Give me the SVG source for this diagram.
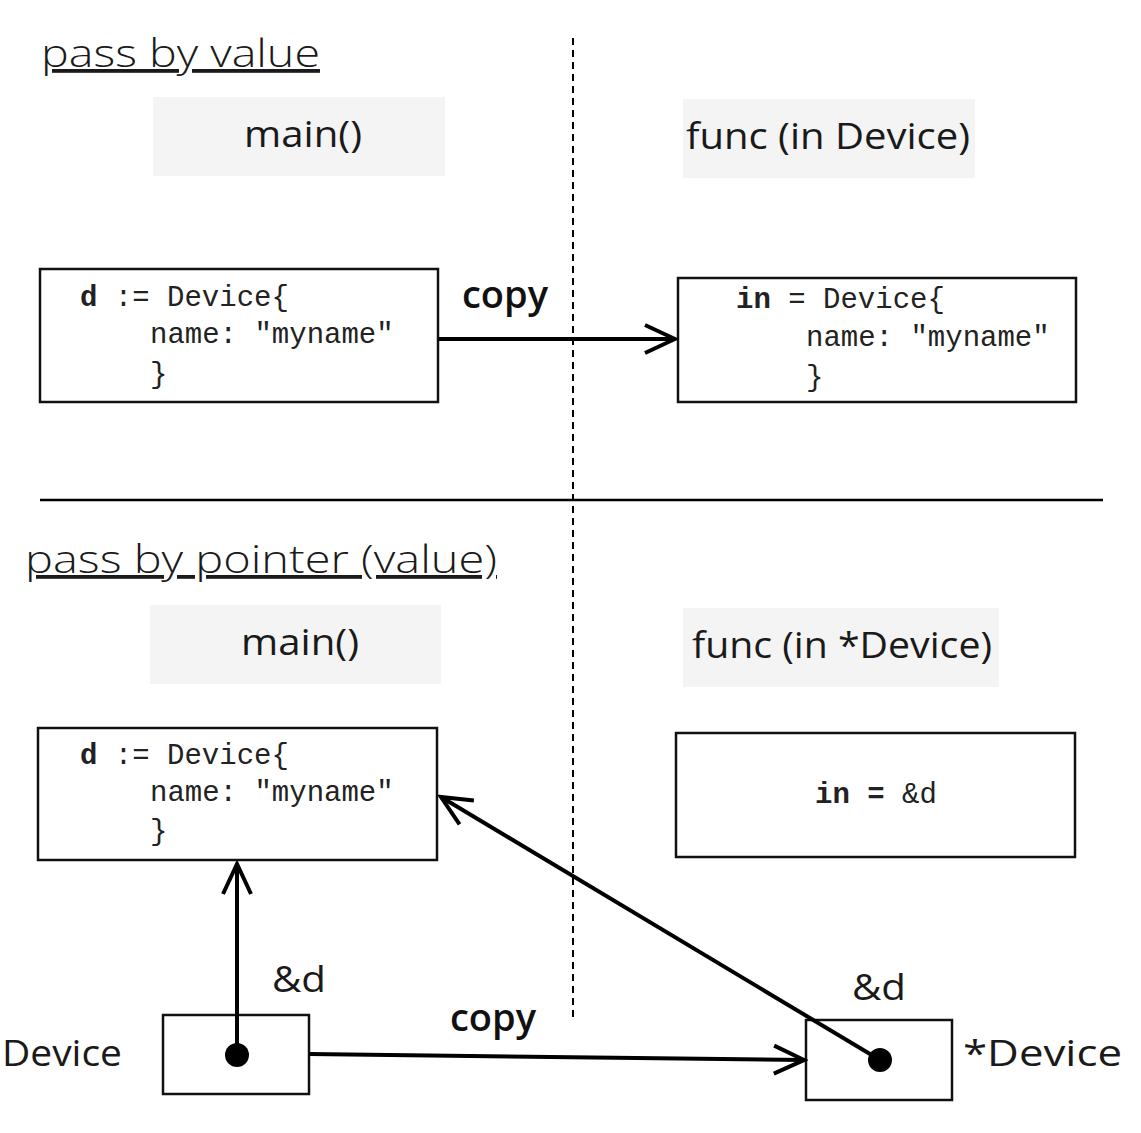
<svg xmlns="http://www.w3.org/2000/svg" width="1141" height="1133" viewBox="0 0 1141 1133">
<style>
.title{font-family:"Open Sans","Liberation Sans",sans-serif;font-size:38px;font-weight:300;fill:#1a1a1a;text-decoration:underline;}
.lbl{font-family:"Open Sans","Liberation Sans",sans-serif;font-size:37px;font-weight:400;fill:#1a1a1a;}
.copy{font-family:"Open Sans","Liberation Sans",sans-serif;font-size:38px;font-weight:600;fill:#111;}
.code{font-family:"Liberation Mono",monospace;font-size:29px;fill:#222;}
.b{font-weight:bold;}
.hdr{fill:#f4f4f4;stroke:none;}
.box{fill:#fff;stroke:#111;stroke-width:2.5;}
.edge{stroke:#000;stroke-width:4;fill:none;}
</style>
<defs>
<marker id="arr" markerUnits="userSpaceOnUse" viewBox="-34 -18 38 36" refX="0" refY="0" markerWidth="38" markerHeight="36" orient="auto">
<path d="M-30,-14 L0,0 L-30,14" fill="none" stroke="#000" stroke-width="4"/>
</marker>
</defs>
<rect width="1141" height="1133" fill="#fff"/>
<g id="dividers">
<line x1="573" y1="38" x2="573" y2="1020" stroke="#000" stroke-width="2" stroke-dasharray="7,5"/>
<line x1="40" y1="500" x2="1103" y2="500" stroke="#000" stroke-width="2.5"/>
</g>
<g id="title-value"><text class="title" x="41" y="67" textLength="279" lengthAdjust="spacingAndGlyphs">pass by value</text></g>
<g id="main-1"><rect class="hdr" x="153" y="97" width="292" height="79"/><text class="lbl" x="244" y="147" textLength="118" lengthAdjust="spacingAndGlyphs">main()</text></g>
<g id="func-1"><rect class="hdr" x="683" y="99" width="292" height="79"/><text class="lbl" x="686" y="149" textLength="284" lengthAdjust="spacingAndGlyphs">func (in Device)</text></g>
<g id="code-d1">
<rect class="box" x="40" y="269" width="398" height="133"/>
<text class="code" x="80" y="306"><tspan class="b">d</tspan> := Device{</text>
<text class="code" x="150" y="343">name: "myname"</text>
<text class="code" x="150" y="383">}</text>
</g>
<g id="code-in1">
<rect class="box" x="678" y="278" width="398" height="124"/>
<text class="code" x="736" y="308"><tspan class="b">in</tspan> = Device{</text>
<text class="code" x="806" y="346">name: "myname"</text>
<text class="code" x="806" y="386">}</text>
</g>
<g id="title-pointer"><text class="title" x="25" y="573" textLength="472" lengthAdjust="spacingAndGlyphs">pass by pointer (value)</text></g>
<g id="main-2"><rect class="hdr" x="150" y="605" width="291" height="79"/><text class="lbl" x="241" y="655" textLength="118" lengthAdjust="spacingAndGlyphs">main()</text></g>
<g id="func-2"><rect class="hdr" x="683" y="608" width="316" height="79"/><text class="lbl" x="692" y="658" textLength="300" lengthAdjust="spacingAndGlyphs">func (in *Device)</text></g>
<g id="code-d2">
<rect class="box" x="38" y="728" width="399" height="132"/>
<text class="code" x="80" y="764"><tspan class="b">d</tspan> := Device{</text>
<text class="code" x="150" y="801">name: "myname"</text>
<text class="code" x="150" y="840">}</text>
</g>
<g id="code-in2">
<rect class="box" x="676" y="733" width="399" height="124"/>
<text class="code" x="815" y="803"><tspan class="b">in =</tspan> &amp;d</text>
</g>
<g id="ptr-left">
<rect class="box" x="163" y="1015" width="146" height="79"/>
<text class="lbl" x="2" y="1066" textLength="120" lengthAdjust="spacingAndGlyphs">Device</text>
</g>
<g id="ptr-right">
<rect class="box" x="806" y="1020" width="146" height="80"/>
<text class="lbl" x="963" y="1066" textLength="159" lengthAdjust="spacingAndGlyphs">*Device</text>
</g>
<g id="connectors">
<line class="edge" x1="438" y1="339" x2="675" y2="339" marker-end="url(#arr)"/>
<text class="copy" x="462" y="308">copy</text>
<line class="edge" x1="237" y1="1055" x2="237" y2="864" marker-end="url(#arr)"/>
<circle cx="237" cy="1055" r="12" fill="#000"/>
<text class="lbl" x="272" y="992" textLength="54" lengthAdjust="spacingAndGlyphs">&amp;d</text>
<line class="edge" x1="309" y1="1054" x2="804" y2="1060" marker-end="url(#arr)"/>
<text class="copy" x="450" y="1031">copy</text>
<line class="edge" x1="880" y1="1060" x2="441" y2="797" marker-end="url(#arr)"/>
<circle cx="880" cy="1060" r="12" fill="#000"/>
<text class="lbl" x="852" y="1000" textLength="54" lengthAdjust="spacingAndGlyphs">&amp;d</text>
</g>
</svg>
